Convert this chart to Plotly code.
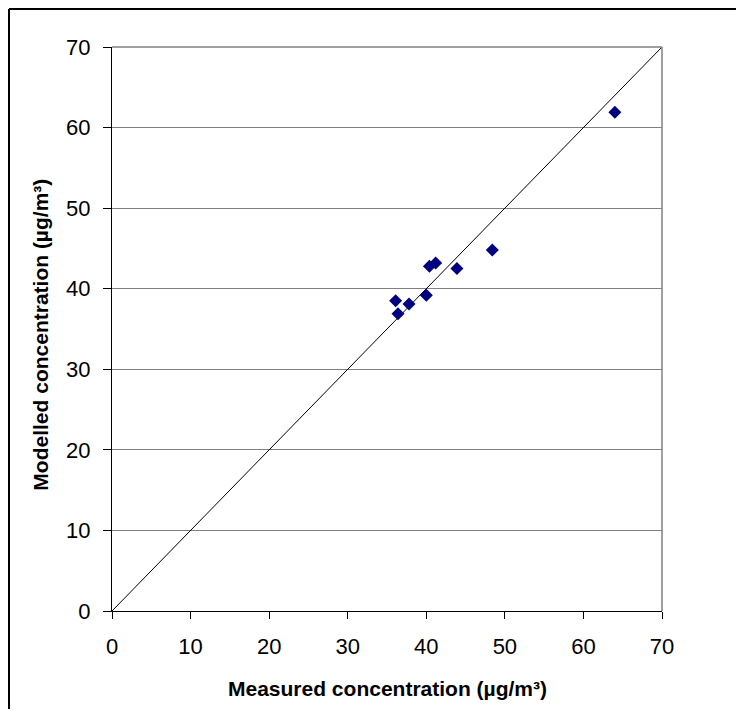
import plotly.graph_objects as go

measured = [36.1, 36.4, 37.8, 40.0, 40.4, 41.2, 43.9, 48.4, 64.0]
modelled = [38.5, 36.9, 38.1, 39.2, 42.8, 43.2, 42.5, 44.8, 61.9]
line_x = [0, 70]
line_y = [0, 70]
ticks = [0, 10, 20, 30, 40, 50, 60, 70]

FONT = "Arial, 'Liberation Sans', sans-serif"

fig = go.Figure()
fig.add_trace(go.Scatter(x=line_x, y=line_y, mode="lines",
                         line=dict(color="black", width=1), hoverinfo="skip"))
fig.add_trace(go.Scatter(x=measured, y=modelled, mode="markers",
                         marker=dict(symbol="diamond", size=10, color="#000080",
                                     line=dict(width=0))))

# page body has an 8px margin
W, H = 728, 701
L, T = 104, 39
pw, ph = 550, 564
R, B = W - L - pw, H - T - ph

fig.update_layout(
    width=W, height=H,
    margin=dict(l=L, r=R, t=T, b=B, pad=0),
    paper_bgcolor="white", plot_bgcolor="white",
    showlegend=False,
    font=dict(family=FONT, color="black"),
    xaxis=dict(range=[0, 70], tickvals=ticks, ticktext=[str(t) for t in ticks],
               showgrid=False, zeroline=False, showline=True, linecolor="black",
               linewidth=1, ticks="outside", ticklen=7, tickcolor="black",
               tickfont=dict(size=22), ticklabelstandoff=9),
    yaxis=dict(range=[0, 70], tickvals=ticks, ticktext=[str(t) for t in ticks],
               showgrid=True, gridcolor="#808080", gridwidth=1,
               zeroline=False, showline=True, linecolor="black",
               linewidth=1, ticks="outside", ticklen=8, tickcolor="black",
               tickfont=dict(size=22), ticklabelstandoff=8),
    annotations=[
        dict(text="<b>Measured concentration (µg/m³)</b>", xref="paper", yref="paper",
             x=0.5, y=-(680 - T - ph) / ph, xanchor="center", yanchor="middle",
             showarrow=False, font=dict(size=21)),
        dict(text="<b>Modelled concentration (µg/m³)</b>", xref="paper", yref="paper",
             x=(33 - L) / pw, y=0.49, xanchor="center", yanchor="middle",
             textangle=-90, showarrow=False, font=dict(size=21)),
    ],
    shapes=[
        dict(type="line", xref="paper", yref="paper", x0=1, x1=1, y0=0, y1=1,
             line=dict(color="#808080", width=1.5)),
        dict(type="line", xref="paper", yref="paper", x0=0, x1=1, y0=1, y1=1,
             line=dict(color="#808080", width=1.5)),
        dict(type="line", xref="paper", yref="paper",
             x0=(1 - L) / pw, x1=(W + 20 - L) / pw,
             y0=1 + (T - 1) / ph, y1=1 + (T - 1) / ph,
             line=dict(color="black", width=2)),
        dict(type="line", xref="paper", yref="paper",
             x0=(1 - L) / pw, x1=(1 - L) / pw,
             y0=-(B + 20) / ph, y1=1 + (T - 1) / ph,
             line=dict(color="black", width=2)),
    ],
)

fig.write_html("out.html")
